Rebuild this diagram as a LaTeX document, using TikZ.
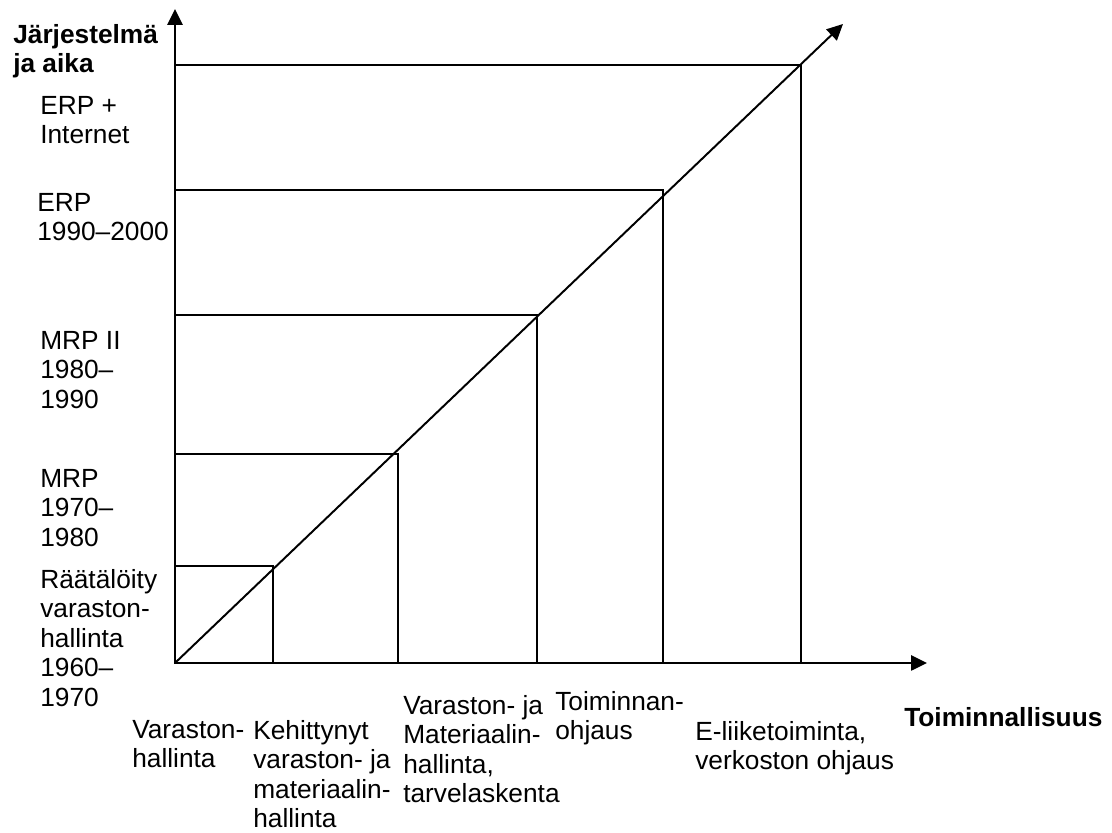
\documentclass[tikz,border=0pt]{standalone}
\usepackage{fontspec}
\setmainfont{Liberation Sans}
\usetikzlibrary{arrows.meta}

\tikzset{
  label/.style={anchor=north west, inner sep=0pt, align=left, font=\fontsize{18.7}{21}\selectfont},
  axislabel/.style={label, font=\fontsize{18.7}{21}\selectfont\bfseries},
  axis/.style={line width=1.4pt, -{Triangle[length=4mm, width=3.8mm]}},
  level/.style={line width=1.3pt}
}

\begin{document}
\begin{tikzpicture}
        \useasboundingbox (-4.375, -4.25) rectangle (23.425, 16.575);

        \coordinate (o) at (0, 0);
        \coordinate (yTip) at (0, 16.35);
        \coordinate (xTip) at (18.8, 0);
        \coordinate (dTip) at (16.7, 15.975);
        \coordinate (c1) at (2.45, 2.425);
        \coordinate (c2) at (5.575, 5.225);
        \coordinate (c3) at (9.05, 8.7);
        \coordinate (c4) at (12.2, 11.825);
        \coordinate (c5) at (15.65, 14.95);

        \draw[level] (o) rectangle (c1);
        \draw[level] (o) rectangle (c2);
        \draw[level] (o) rectangle (c3);
        \draw[level] (o) rectangle (c4);
        \draw[level] (o) rectangle (c5);

        \draw[axis] (o) -- (yTip);
        \draw[axis] (o) -- (xTip);
        \draw[axis] (o) -- (dTip);

        % vertical axis labels
        \node[axislabel] (system) at (-4.05, 15.975) {Järjestelmä\\ja aika};
        \node[label] (erpNet) at (-3.375, 14.175) {ERP +\\Internet};
        \node[label] (erp) at (-3.45, 11.75) {ERP\\1990–2000};
        \node[label] (mrpTwo) at (-3.375, 8.3) {MRP II\\1980–\\1990};
        \node[label] (mrp) at (-3.375, 4.85) {MRP\\1970–\\1980};
        \node[label] (custom) at (-3.375, 2.35) {Räätälöity\\varaston-\\hallinta\\1960–\\1970};

        % horizontal axis labels
        \node[label] (stock) at (-1.075, -1.425) {Varaston-\\hallinta};
        \node[label] (advStock) at (1.95, -1.425) {Kehittynyt\\varaston- ja\\materiaalin-\\hallinta};
        \node[label] (material) at (5.7, -0.8) {Varaston- ja\\Materiaalin-\\hallinta,\\tarvelaskenta};
        \node[label] (control) at (9.5, -0.7) {Toiminnan-\\ohjaus};
        \node[label] (ebiz) at (13.0, -1.45) {E-liiketoiminta,\\verkoston ohjaus};
        \node[axislabel] (func) at (18.225, -1.1) {Toiminnallisuus};
      \end{tikzpicture}
\end{document}
